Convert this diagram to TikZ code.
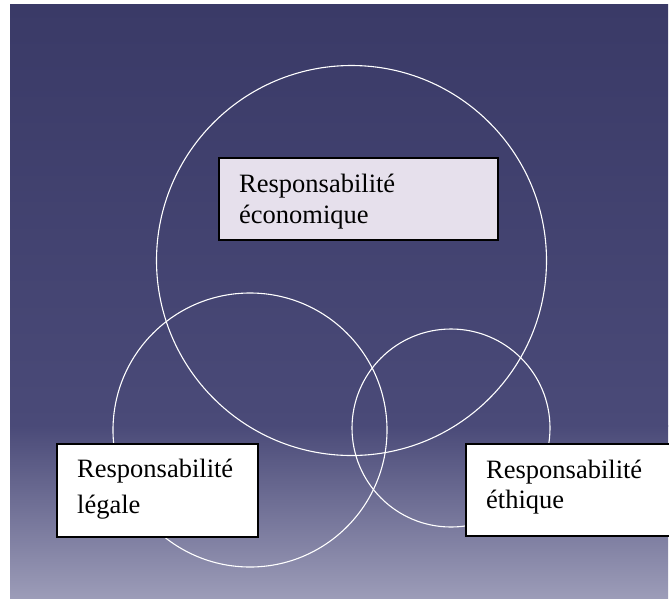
\documentclass[tikz,border=0pt]{standalone}
\usepackage{fontspec}
\setmainfont{Liberation Serif}
\definecolor{bgtop}{HTML}{3A3A67}
\definecolor{bgmid}{HTML}{4A4A78}
\definecolor{bgbot}{HTML}{9C9CB8}
\definecolor{ecofill}{HTML}{E6E0EC}
\tikzset{
  ring/.style={circle, draw=white, line width=1.1pt, inner sep=0pt, fill=none},
  labelbox/.style={draw=black, line width=1.5pt, inner sep=0pt, anchor=north west},
  labeltext/.style={anchor=base west, inner sep=0pt, text width=220pt, align=left, text=black}
}
\begin{document}
\begin{tikzpicture}[x=1pt, y=-1pt]
\useasboundingbox (0,0) rectangle (669,606);
% background
\shade[top color=bgtop, bottom color=bgmid] (10,4) rectangle (668,426);
\shade[top color=bgmid, bottom color=bgbot] (10,425) rectangle (668,598);
% circles
\node[ring, minimum size=390pt] (ceco) at (351.5,260.5) {};
\node[ring, minimum size=274pt] (cleg) at (250,430) {};
\node[ring, minimum size=198pt] (ceth) at (451,428) {};
% boxes
\node[labelbox, fill=ecofill, minimum width=279pt, minimum height=82pt] (beco) at (218,157) {};
\node[labelbox, fill=white, minimum width=201pt, minimum height=93pt] (bleg) at (56,443) {};
\node[labelbox, fill=white, minimum width=210pt, minimum height=92pt] (beth) at (465,443) {};
% texts
\node[labeltext, font=\fontsize{26.5}{31}\selectfont] (teco) at (239,192) {Responsabilité\\économique};
\node[labeltext, font=\fontsize{26.5}{36}\selectfont] (tleg) at (77,477) {Responsabilité\\légale};
\node[labeltext, font=\fontsize{26.5}{30}\selectfont] (teth) at (486,478) {Responsabilité\\éthique};
\end{tikzpicture}
\end{document}
